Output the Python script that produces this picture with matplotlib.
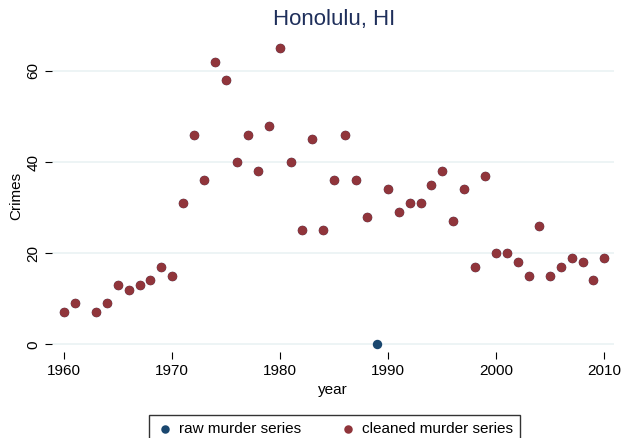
import numpy as np
import matplotlib
matplotlib.use("Agg")
import matplotlib.pyplot as plt

plt.rcParams['font.family'] = ['Liberation Sans', 'DejaVu Sans']

years = [1960, 1961, 1963, 1964, 1965, 1966, 1967, 1968, 1969, 1970,
         1971, 1972, 1973, 1974, 1975, 1976, 1977, 1978, 1979, 1980,
         1981, 1982, 1983, 1984, 1985, 1986, 1987, 1988, 1989, 1990,
         1991, 1992, 1993, 1994, 1995, 1996, 1997, 1998, 1999, 2000,
         2001, 2002, 2003, 2004, 2005, 2006, 2007, 2008, 2009, 2010]
raw = [7, 9, 7, 9, 13, 12, 13, 14, 17, 15,
       31, 46, 36, 62, 58, 40, 46, 38, 48, 65,
       40, 25, 45, 25, 36, 46, 36, 28, 0, 34,
       29, 31, 31, 35, 38, 27, 34, 17, 37, 20,
       20, 18, 15, 26, 15, 17, 19, 18, 14, 19]
# cleaned series drops the 1989 zero
cleaned = [np.nan if y == 1989 else v for y, v in zip(years, raw)]

navy = '#1a476f'
maroon = '#90353b'

fig = plt.figure(figsize=(6.25, 4.38), dpi=100)
ax = fig.add_axes([52/625, 1 - 352/438, (614-52)/625, (352-40)/438])

ax.scatter(years, raw, s=46, color=navy, zorder=3, label='raw murder series', linewidths=0)
ax.scatter(years, cleaned, s=46, color=maroon, zorder=4, label='cleaned murder series', linewidths=0)

ax.set_xlim(1958.9, 2010.9)
ax.set_ylim(-1.7, 66.8)
ax.set_xticks([1960, 1970, 1980, 1990, 2000, 2010])
ax.set_yticks([0, 20, 40, 60])
ax.tick_params(axis='both', labelsize=11, length=5, width=0.8, color='black')
for lab in ax.get_yticklabels():
    lab.set_rotation(90)
    lab.set_va('center')
ax.grid(axis='y', color='#eaf2f3', linewidth=1.2)
ax.set_axisbelow(True)
for s in ax.spines.values():
    s.set_visible(False)

ax.set_xlabel('year', fontsize=11, labelpad=4)
ax.set_ylabel('Crimes', fontsize=11, labelpad=2)
fig.text(334/625, 1 - 20/438, 'Honolulu, HI', ha='center', va='center',
         fontsize=16, color='#1f2f5b')

leg = fig.legend(loc='upper center', bbox_to_anchor=(334.5/625, 1 - 407/438),
                 ncol=2, fontsize=11, frameon=True, fancybox=False,
                 edgecolor='black', handletextpad=0.3, columnspacing=2.5,
                 borderpad=0.45, handlelength=1.2, markerscale=0.9)
leg.get_frame().set_linewidth(1.0)

fig.savefig('out.png', dpi=100)
